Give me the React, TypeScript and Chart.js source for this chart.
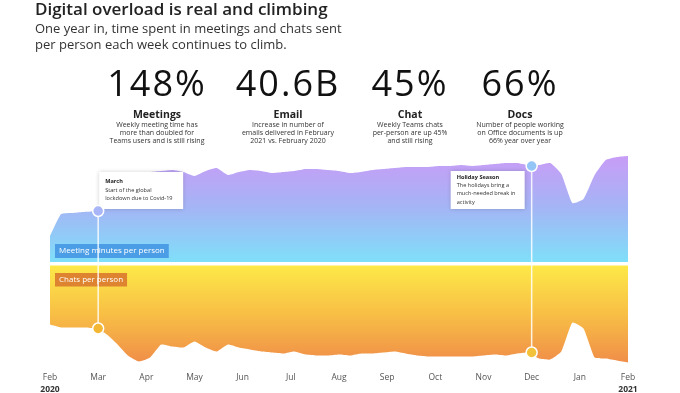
import React, { useEffect, useRef } from "react";
import { Chart, registerables } from "chart.js";

Chart.register(...registerables);

// ---- data ----
const monthLabels = ["Feb", "Mar", "Apr", "May", "Jun", "Jul", "Aug", "Sep", "Oct", "Nov", "Dec", "Jan", "Feb"];
const yearLabels = ["2020", "2021"];
const weeksInYear = 52;

// weekly meeting minutes per person (index, week 0 = early Feb 2020)
const meetingMinutes = [
  26, 48, 49, 50, 51, 58, 72, 84, 89, 90, 91, 92, 90, 86, 91, 94, 87, 90, 92, 91,
  89, 90, 91, 93, 93, 92, 91, 89, 90, 92, 93, 94, 95, 95, 95, 96, 96, 97, 96, 97,
  98, 99, 99, 97, 97, 99, 88, 59, 63, 87, 102, 105, 106,
];

// weekly chats per person (index, drawn downward)
const chatsPerPerson = [
  59, 62, 62, 62, 63, 68, 78, 90, 96, 92, 79, 81, 82, 76, 82, 86, 79, 82, 84, 86,
  87, 88, 86, 89, 90, 90, 89, 90, 88, 88, 87, 86, 88, 90, 91, 91, 91, 91, 91, 90,
  89, 90, 88, 87, 93, 94, 86, 57, 63, 92, 93, 95, 97,
];

const markerMonths = [1, 10];
const markerMeetings = [51, 96];
const markerChats = [63, 87];
const markerTitles = ["March", "Holiday Season"];
const markerTexts = [
  ["Start of the global", "lockdown due to Covid-19"],
  ["The holidays bring a", "much-needed break in", "activity"],
];

const kpiValues = ["148%", "40.6B", "45%", "66%"];
const kpiTitles = ["Meetings", "Email", "Chat", "Docs"];
const kpiTexts = [
  ["Weekly meeting time has", "more than doubled for", "Teams users and is still rising"],
  ["Increase in number of", "emails delivered in February", "2021 vs. February 2020"],
  ["Weekly Teams chats", "per-person are up 45%", "and still rising"],
  ["Number of people working", "on Office documents is up", "66% year over year"],
];
const kpiCenters = [157, 288, 410, 520];

const seriesLabels = ["Meeting minutes per person", "Chats per person"];

const FONT = '"Open Sans", "Noto Sans", sans-serif';

const overlayPlugin = {
  id: "overlay",
  afterDatasetsDraw(chart: any) {
    const { ctx, chartArea, scales } = chart;
    const xs = scales.x;
    const ym = scales.yMeet;
    const yc = scales.yChat;
    ctx.save();

    // series labels
    const meetBase = ym.getPixelForValue(0);
    const chatBase = yc.getPixelForValue(0);
    ctx.font = `8px ${FONT}`;
    ctx.textBaseline = "middle";
    const l1w = ctx.measureText(seriesLabels[0]).width + 8;
    ctx.fillStyle = "#4b9de6";
    ctx.fillRect(chartArea.left + 5, meetBase - 18, l1w, 14);
    ctx.fillStyle = "#ffffff";
    ctx.fillText(seriesLabels[0], chartArea.left + 9, meetBase - 11);
    const l2w = ctx.measureText(seriesLabels[1]).width + 8;
    ctx.fillStyle = "#de8330";
    ctx.fillRect(chartArea.left + 5, chatBase + 7.5, l2w, 13.5);
    ctx.fillStyle = "#ffffff";
    ctx.fillText(seriesLabels[1], chartArea.left + 9, chatBase + 14.5);

    // annotation boxes
    markerMonths.forEach((m, i) => {
      const px = xs.getPixelForValue(m);
      const w = i === 0 ? 84 : 74;
      const h = i === 0 ? 37 : 38;
      const bx = i === 0 ? px + 1 : px - 7 - w;
      const by = i === 0 ? 172 : 171;
      ctx.save();
      ctx.shadowColor = "rgba(0,0,0,0.18)";
      ctx.shadowBlur = 4;
      ctx.fillStyle = "#ffffff";
      ctx.fillRect(bx, by, w, h);
      ctx.restore();
      ctx.textBaseline = "alphabetic";
      ctx.fillStyle = "#222";
      ctx.font = `bold 5.6px ${FONT}`;
      ctx.fillText(markerTitles[i], bx + 6, by + (i === 0 ? 11 : 7.5));
      ctx.font = `5.6px ${FONT}`;
      ctx.fillStyle = "#333";
      markerTexts[i].forEach((t, j) => {
        ctx.fillText(t, bx + 6, by + (i === 0 ? 20 : 16) + j * 8.3);
      });
    });

    // vertical lines and dots
    const meetDot = ["#a8b5f6", "#93c6f6"];
    const chatDot = ["#f4b733", "#f2c23b"];
    markerMonths.forEach((m, i) => {
      const px = xs.getPixelForValue(m);
      const py1 = ym.getPixelForValue(markerMeetings[i]);
      const py2 = yc.getPixelForValue(markerChats[i]);
      ctx.strokeStyle = "rgba(255,255,255,0.85)";
      ctx.lineWidth = 1.5;
      ctx.beginPath();
      ctx.moveTo(px, py1);
      ctx.lineTo(px, py2);
      ctx.stroke();
      [[py1, meetDot[i]], [py2, chatDot[i]]].forEach(([py, col]: any) => {
        ctx.beginPath();
        ctx.arc(px, py, 5.5, 0, Math.PI * 2);
        ctx.fillStyle = col;
        ctx.fill();
        ctx.lineWidth = 1.5;
        ctx.strokeStyle = "#ffffff";
        ctx.stroke();
      });
    });

    // year labels under first/last tick
    ctx.font = `bold 8.5px ${FONT}`;
    ctx.fillStyle = "#333";
    ctx.textAlign = "center";
    ctx.textBaseline = "alphabetic";
    ctx.fillText(yearLabels[0], xs.getPixelForValue(0), 392);
    ctx.fillText(yearLabels[1], xs.getPixelForValue(12), 392);
    ctx.restore();
  },
};

function meetGradient(context: any) {
  const chart = context.chart;
  const { ctx, chartArea, scales } = chart;
  if (!chartArea) return "#9fbdf5";
  const top = scales.yMeet.getPixelForValue(106);
  const bottom = scales.yMeet.getPixelForValue(0);
  const g = ctx.createLinearGradient(0, top, 0, bottom);
  g.addColorStop(0, "#c89cf6");
  g.addColorStop(0.5, "#a3b6f5");
  g.addColorStop(1, "#7fdff9");
  return g;
}

function chatGradient(context: any) {
  const chart = context.chart;
  const { ctx, chartArea, scales } = chart;
  if (!chartArea) return "#f8c044";
  const top = scales.yChat.getPixelForValue(0);
  const bottom = scales.yChat.getPixelForValue(97);
  const g = ctx.createLinearGradient(0, top, 0, bottom);
  g.addColorStop(0, "#fde948");
  g.addColorStop(0.5, "#f8bf45");
  g.addColorStop(1, "#f08e49");
  return g;
}

function ChartCanvas() {
  const ref = useRef<HTMLCanvasElement | null>(null);
  useEffect(() => {
    if (!ref.current) return;
    const chart = new Chart(ref.current, {
      type: "line",
      data: {
        datasets: [
          {
            label: seriesLabels[0],
            data: meetingMinutes.map((v, i) => ({ x: (i * 12) / weeksInYear, y: v })),
            yAxisID: "yMeet",
            fill: { value: 0 },
            backgroundColor: meetGradient,
            borderWidth: 0,
            pointRadius: 0,
            tension: 0.15,
          },
          {
            label: seriesLabels[1],
            data: chatsPerPerson.map((v, i) => ({ x: (i * 12) / weeksInYear, y: v })),
            yAxisID: "yChat",
            fill: { value: 0 },
            backgroundColor: chatGradient,
            borderWidth: 0,
            pointRadius: 0,
            tension: 0.15,
          },
        ],
      },
      options: {
        responsive: false,
        animation: false,
        events: [],
        layout: { padding: { left: 50, right: 52, top: 145, bottom: 7 } },
        plugins: { legend: { display: false }, tooltip: { enabled: false } },
        scales: {
          x: {
            type: "linear",
            min: 0,
            max: 12,
            border: { display: false },
            grid: { display: false, drawTicks: false },
            ticks: {
              stepSize: 1,
              padding: 6,
              color: "#555",
              font: { family: FONT, size: 8.5 },
              callback: (v: any) => monthLabels[Math.round(v)] ?? "",
            },
            afterFit: (s: any) => {
              s.height = 20;
              s.paddingLeft = 0;
              s.paddingRight = 0;
            },
          },
          yMeet: {
            display: false,
            min: -104,
            max: 117,
          },
          yChat: {
            display: false,
            reverse: true,
            min: -120.5,
            max: 100.5,
          },
        },
      },
      plugins: [overlayPlugin],
    } as any);
    return () => chart.destroy();
  }, []);
  return <canvas ref={ref} width={680} height={393} style={{ position: "absolute", left: 0, top: 0 }} />;
}

export default function App() {
  return (
    <div
      style={{
        position: "fixed",
        left: 0,
        top: 0,
        width: 680,
        height: 393,
        background: "#fff",
        overflow: "hidden",
        fontFamily: FONT,
      }}
    >
      <ChartCanvas />
      <div
        style={{
          position: "absolute",
          left: 35,
          top: 0,
          fontSize: 17,
          lineHeight: "17px",
          fontWeight: 600,
          color: "#222",
          whiteSpace: "nowrap",
        }}
      >
        Digital overload is real and climbing
      </div>
      <div
        style={{
          position: "absolute",
          left: 35,
          top: 20,
          fontSize: 13,
          lineHeight: "16px",
          color: "#333",
          whiteSpace: "nowrap",
        }}
      >
        <div>One year in, time spent in meetings and chats sent</div>
        <div>per person each week continues to climb.</div>
      </div>
      {kpiValues.map((v, i) => (
        <div
          key={i}
          style={{
            position: "absolute",
            left: kpiCenters[i] - 80,
            width: 160,
            top: 65,
            textAlign: "center",
            color: "#111",
          }}
        >
          <div style={{ fontSize: 36, lineHeight: "36px", letterSpacing: 2, height: 43 }}>{v}</div>
          <div style={{ fontSize: 10.5, lineHeight: "12px", fontWeight: 700, color: "#222" }}>{kpiTitles[i]}</div>
          <div style={{ fontSize: 7, lineHeight: "8px", color: "#333", marginTop: 1 }}>
            {kpiTexts[i].map((t, j) => (
              <div key={j}>{t}</div>
            ))}
          </div>
        </div>
      ))}
    </div>
  );
}
